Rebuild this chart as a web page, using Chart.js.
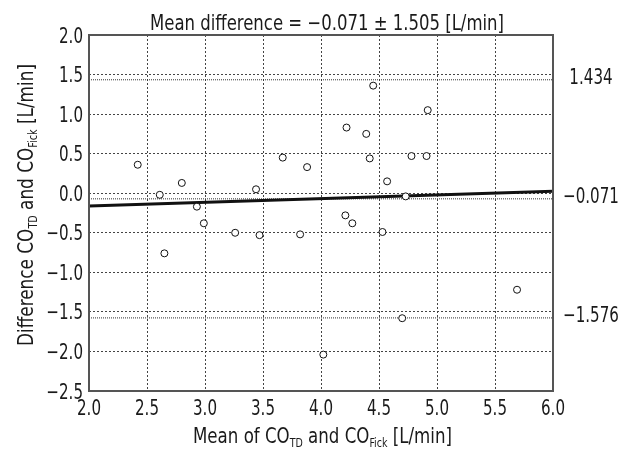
<!DOCTYPE html>
<html>
<head>
<meta charset="utf-8">
<script src="https://cdn.jsdelivr.net/npm/chart.js@4.4.1/dist/chart.umd.min.js"></script>
<style>
  html, body { margin: 0; padding: 0; background: #fff; }
  #wrap { width: 632px; height: 449px; }
</style>
</head>
<body>
<div id="wrap"><canvas id="baChart"></canvas></div>
<script>
// Bland-Altman: CO thermodilution vs CO Fick
const meanVals = [2.42, 2.61, 2.80, 2.93, 3.44, 3.67, 3.88, 4.45, 4.92, 4.22, 4.39, 4.42, 4.78, 4.91,
                  4.57, 4.73, 4.21, 2.99, 2.65, 3.26, 3.47, 3.82, 4.02, 4.27, 4.53, 5.69, 4.70];
const diffVals = [0.36, -0.02, 0.13, -0.17, 0.05, 0.45, 0.33, 1.36, 1.05, 0.83, 0.75, 0.44, 0.47, 0.47,
                  0.15, -0.04, -0.28, -0.38, -0.76, -0.50, -0.53, -0.52, -2.04, -0.38, -0.49, -1.22, -1.58];

const limitVals = [1.434, -0.071, -1.576];   // upper LoA, bias, lower LoA
const regX = [2.0, 6.0];
const regY = [-0.16, 0.025];

const xMin = 2.0, xMax = 6.0, yMin = -2.5, yMax = 2.0, step = 0.5;

const FONT = '"Liberation Sans Narrow", "DejaVu Sans Condensed", "Liberation Sans", sans-serif';
const FS = 21;
const SX = 0.8;          // squeeze glyphs to mimic a condensed face
const TXT = '#1a1a1a';

const minus = (v, d) => (v < 0 ? '\u2212' : '') + Math.abs(v).toFixed(d);

const points = meanVals.map((x, i) => ({ x: x, y: diffVals[i] }));
const regLine = regX.map((x, i) => ({ x: x, y: regY[i] }));
const limitSets = limitVals.map(v => ({
    type: 'line',
    data: [{ x: xMin, y: v }, { x: xMax, y: v }],
    borderColor: '#333',
    borderWidth: 1,
    borderDash: [1, 1],
    pointRadius: 0,
    fill: false
}));

// squeezed text
function txt(ctx, s, x, y, align, sx) {
    ctx.save();
    ctx.translate(x, y);
    ctx.scale(sx || SX, 1);
    ctx.textAlign = align;
    ctx.textBaseline = 'alphabetic';
    ctx.fillText(s, 0, 0);
    ctx.restore();
}

// text with subscripts fitted to a width: parts = [[text, isSub], ...]
function drawParts(ctx, parts, cx, baseY, width) {
    const mainFont = FS + 'px ' + FONT;
    const subFont = '12px ' + FONT;
    let total = 0;
    parts.forEach(p => { ctx.font = p[1] ? subFont : mainFont; total += ctx.measureText(p[0]).width; });
    const sx = width / total;
    ctx.save();
    ctx.translate(cx - width / 2, baseY);
    ctx.scale(sx, 1);
    ctx.textAlign = 'left';
    ctx.textBaseline = 'alphabetic';
    let x = 0;
    parts.forEach(p => {
        ctx.font = p[1] ? subFont : mainFont;
        ctx.fillText(p[0], x, p[1] ? 4 : 0);
        x += ctx.measureText(p[0]).width;
    });
    ctx.restore();
}

const labelsPlugin = {
    id: 'labels',
    afterDraw(chart) {
        const ctx = chart.ctx;
        const a = chart.chartArea;
        const sxS = chart.scales.x, syS = chart.scales.y, sy2 = chart.scales.y2;
        ctx.save();
        // frame
        ctx.strokeStyle = '#555';
        ctx.lineWidth = 2;
        ctx.strokeRect(a.left, a.top, a.right - a.left, a.bottom - a.top);
        ctx.fillStyle = TXT;
        ctx.font = FS + 'px ' + FONT;
        // tick labels
        sxS.ticks.forEach(t => txt(ctx, minus(t.value, 1), sxS.getPixelForValue(t.value), 415, 'center'));
        syS.ticks.forEach(t => txt(ctx, minus(t.value, 1), a.left - 6, syS.getPixelForValue(t.value) + 7.5, 'right'));
        sy2.ticks.forEach(t => txt(ctx, minus(t.value, 3), a.right + 38, sy2.getPixelForValue(t.value) + 4.5, 'center'));
        // titles
        drawParts(ctx, [['Mean difference = \u22120.071 \u00b1 1.505 [L/min]', false]], 327, 29.5, 354);
        drawParts(ctx, [['Mean of CO', false], ['TD', true], [' and CO', false], ['Fick', true], [' [L/min]', false]], 322.5, 443, 259);
        ctx.translate(33, 205);
        ctx.rotate(-Math.PI / 2);
        drawParts(ctx, [['Difference CO', false], ['TD', true], [' and CO', false], ['Fick', true], [' [L/min]', false]], 0, 0, 282);
        ctx.restore();
    }
};

new Chart(document.getElementById('baChart'), {
    type: 'scatter',
    data: {
        datasets: [
            {
                data: points,
                pointRadius: 3.5,
                pointHoverRadius: 3.5,
                pointBackgroundColor: '#fff',
                pointBorderColor: '#111',
                pointBorderWidth: 1
            },
            {
                type: 'line',
                data: regLine,
                borderColor: '#111',
                borderWidth: 3,
                pointRadius: 0,
                fill: false
            },
            ...limitSets
        ]
    },
    options: {
        responsive: true,
        maintainAspectRatio: false,
        animation: false,
        layout: { padding: { top: 35, left: 0, right: 0, bottom: 0 } },
        plugins: { legend: { display: false }, tooltip: { enabled: false } },
        scales: {
            x: {
                type: 'linear',
                min: xMin, max: xMax,
                afterFit: s => { s.height = 58; },
                ticks: { display: false, stepSize: step },
                grid: { color: '#444', lineWidth: 1, drawTicks: false },
                border: { display: false, dash: [2, 2] }
            },
            y: {
                min: yMin, max: yMax,
                afterFit: s => { s.width = 89; },
                ticks: { display: false, stepSize: step },
                grid: { color: '#444', lineWidth: 1, drawTicks: false },
                border: { display: false, dash: [2, 2] }
            },
            y2: {
                position: 'right',
                min: yMin, max: yMax,
                afterFit: s => { s.width = 79; },
                afterBuildTicks: s => { s.ticks = limitVals.map(v => ({ value: v })); },
                ticks: { display: false },
                grid: { display: false, drawTicks: false },
                border: { display: false }
            }
        }
    },
    plugins: [labelsPlugin]
});
</script>
</body>
</html>
